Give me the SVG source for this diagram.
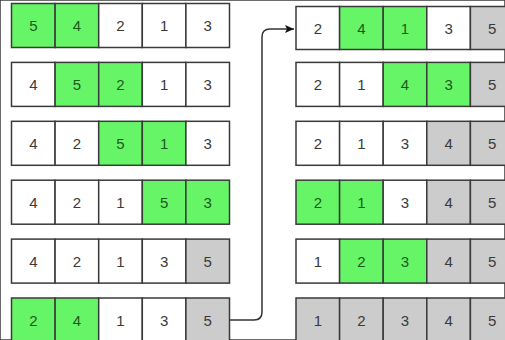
<svg xmlns="http://www.w3.org/2000/svg" width="505" height="340" viewBox="0 0 505 340">
<style>
rect{stroke:#3a3a3a;stroke-width:1.5}
.w{fill:#ffffff}
.g{fill:#66f566}
.s{fill:#cccccc}
text{font-family:"Liberation Sans",Arial,sans-serif;font-size:15px;text-anchor:middle;dominant-baseline:central;fill:#3a3a3a}
.gt{fill:#1e5a1e}
.conn{fill:none;stroke:#333;stroke-width:1.5}
</style>
<defs>
<marker id="ah" markerWidth="10" markerHeight="10" refX="9" refY="5" orient="auto" markerUnits="userSpaceOnUse">
<path d="M0,1 L9,5 L0,9 L2,5 Z" fill="#111"/>
</marker>
</defs>
<rect width="505" height="340" fill="#fff" stroke="none"/>
<g id="connectors">
<path class="conn" d="M229.5,320 H254 Q262,320 262,312 V37 Q262,29 270,29 H294" marker-end="url(#ah)"/>
</g>
<g id="L1" transform="translate(11.5,3.5)">
<rect class="g" x="0" y="0" width="43.6" height="44"/><text class="gt" x="21.8" y="22">5</text>
<rect class="g" x="43.6" y="0" width="43.6" height="44"/><text class="gt" x="65.4" y="22">4</text>
<rect class="w" x="87.2" y="0" width="43.6" height="44"/><text x="109" y="22">2</text>
<rect class="w" x="130.8" y="0" width="43.6" height="44"/><text x="152.6" y="22">1</text>
<rect class="w" x="174.4" y="0" width="43.6" height="44"/><text x="196.2" y="22">3</text>
</g>
<g id="L2" transform="translate(11.5,62.4)">
<rect class="w" x="0" y="0" width="43.6" height="44"/><text x="21.8" y="22">4</text>
<rect class="g" x="43.6" y="0" width="43.6" height="44"/><text class="gt" x="65.4" y="22">5</text>
<rect class="g" x="87.2" y="0" width="43.6" height="44"/><text class="gt" x="109" y="22">2</text>
<rect class="w" x="130.8" y="0" width="43.6" height="44"/><text x="152.6" y="22">1</text>
<rect class="w" x="174.4" y="0" width="43.6" height="44"/><text x="196.2" y="22">3</text>
</g>
<g id="L3" transform="translate(11.5,121.3)">
<rect class="w" x="0" y="0" width="43.6" height="44"/><text x="21.8" y="22">4</text>
<rect class="w" x="43.6" y="0" width="43.6" height="44"/><text x="65.4" y="22">2</text>
<rect class="g" x="87.2" y="0" width="43.6" height="44"/><text class="gt" x="109" y="22">5</text>
<rect class="g" x="130.8" y="0" width="43.6" height="44"/><text class="gt" x="152.6" y="22">1</text>
<rect class="w" x="174.4" y="0" width="43.6" height="44"/><text x="196.2" y="22">3</text>
</g>
<g id="L4" transform="translate(11.5,180.2)">
<rect class="w" x="0" y="0" width="43.6" height="44"/><text x="21.8" y="22">4</text>
<rect class="w" x="43.6" y="0" width="43.6" height="44"/><text x="65.4" y="22">2</text>
<rect class="w" x="87.2" y="0" width="43.6" height="44"/><text x="109" y="22">1</text>
<rect class="g" x="130.8" y="0" width="43.6" height="44"/><text class="gt" x="152.6" y="22">5</text>
<rect class="g" x="174.4" y="0" width="43.6" height="44"/><text class="gt" x="196.2" y="22">3</text>
</g>
<g id="L5" transform="translate(11.5,239.1)">
<rect class="w" x="0" y="0" width="43.6" height="44"/><text x="21.8" y="22">4</text>
<rect class="w" x="43.6" y="0" width="43.6" height="44"/><text x="65.4" y="22">2</text>
<rect class="w" x="87.2" y="0" width="43.6" height="44"/><text x="109" y="22">1</text>
<rect class="w" x="130.8" y="0" width="43.6" height="44"/><text x="152.6" y="22">3</text>
<rect class="s" x="174.4" y="0" width="43.6" height="44"/><text x="196.2" y="22">5</text>
</g>
<g id="L6" transform="translate(11.5,298)">
<rect class="g" x="0" y="0" width="43.6" height="44"/><text class="gt" x="21.8" y="22">2</text>
<rect class="g" x="43.6" y="0" width="43.6" height="44"/><text class="gt" x="65.4" y="22">4</text>
<rect class="w" x="87.2" y="0" width="43.6" height="44"/><text x="109" y="22">1</text>
<rect class="w" x="130.8" y="0" width="43.6" height="44"/><text x="152.6" y="22">3</text>
<rect class="s" x="174.4" y="0" width="43.6" height="44"/><text x="196.2" y="22">5</text>
</g>
<g id="R1" transform="translate(296,6.5)">
<rect class="w" x="0" y="0" width="43.6" height="43"/><text x="21.8" y="21.5">2</text>
<rect class="g" x="43.6" y="0" width="43.6" height="43"/><text class="gt" x="65.4" y="21.5">4</text>
<rect class="g" x="87.2" y="0" width="43.6" height="43"/><text class="gt" x="109" y="21.5">1</text>
<rect class="w" x="130.8" y="0" width="43.6" height="43"/><text x="152.6" y="21.5">3</text>
<rect class="s" x="174.4" y="0" width="43.6" height="43"/><text x="196.2" y="21.5">5</text>
</g>
<g id="R2" transform="translate(296,62.4)">
<rect class="w" x="0" y="0" width="43.6" height="44"/><text x="21.8" y="22">2</text>
<rect class="w" x="43.6" y="0" width="43.6" height="44"/><text x="65.4" y="22">1</text>
<rect class="g" x="87.2" y="0" width="43.6" height="44"/><text class="gt" x="109" y="22">4</text>
<rect class="g" x="130.8" y="0" width="43.6" height="44"/><text class="gt" x="152.6" y="22">3</text>
<rect class="s" x="174.4" y="0" width="43.6" height="44"/><text x="196.2" y="22">5</text>
</g>
<g id="R3" transform="translate(296,121.3)">
<rect class="w" x="0" y="0" width="43.6" height="44"/><text x="21.8" y="22">2</text>
<rect class="w" x="43.6" y="0" width="43.6" height="44"/><text x="65.4" y="22">1</text>
<rect class="w" x="87.2" y="0" width="43.6" height="44"/><text x="109" y="22">3</text>
<rect class="s" x="130.8" y="0" width="43.6" height="44"/><text x="152.6" y="22">4</text>
<rect class="s" x="174.4" y="0" width="43.6" height="44"/><text x="196.2" y="22">5</text>
</g>
<g id="R4" transform="translate(296,180.2)">
<rect class="g" x="0" y="0" width="43.6" height="44"/><text class="gt" x="21.8" y="22">2</text>
<rect class="g" x="43.6" y="0" width="43.6" height="44"/><text class="gt" x="65.4" y="22">1</text>
<rect class="w" x="87.2" y="0" width="43.6" height="44"/><text x="109" y="22">3</text>
<rect class="s" x="130.8" y="0" width="43.6" height="44"/><text x="152.6" y="22">4</text>
<rect class="s" x="174.4" y="0" width="43.6" height="44"/><text x="196.2" y="22">5</text>
</g>
<g id="R5" transform="translate(296,239.1)">
<rect class="w" x="0" y="0" width="43.6" height="44"/><text x="21.8" y="22">1</text>
<rect class="g" x="43.6" y="0" width="43.6" height="44"/><text class="gt" x="65.4" y="22">2</text>
<rect class="g" x="87.2" y="0" width="43.6" height="44"/><text class="gt" x="109" y="22">3</text>
<rect class="s" x="130.8" y="0" width="43.6" height="44"/><text x="152.6" y="22">4</text>
<rect class="s" x="174.4" y="0" width="43.6" height="44"/><text x="196.2" y="22">5</text>
</g>
<g id="R6" transform="translate(296,298)">
<rect class="s" x="0" y="0" width="43.6" height="44"/><text x="21.8" y="22">1</text>
<rect class="s" x="43.6" y="0" width="43.6" height="44"/><text x="65.4" y="22">2</text>
<rect class="s" x="87.2" y="0" width="43.6" height="44"/><text x="109" y="22">3</text>
<rect class="s" x="130.8" y="0" width="43.6" height="44"/><text x="152.6" y="22">4</text>
<rect class="s" x="174.4" y="0" width="43.6" height="44"/><text x="196.2" y="22">5</text>
</g>
</svg>
